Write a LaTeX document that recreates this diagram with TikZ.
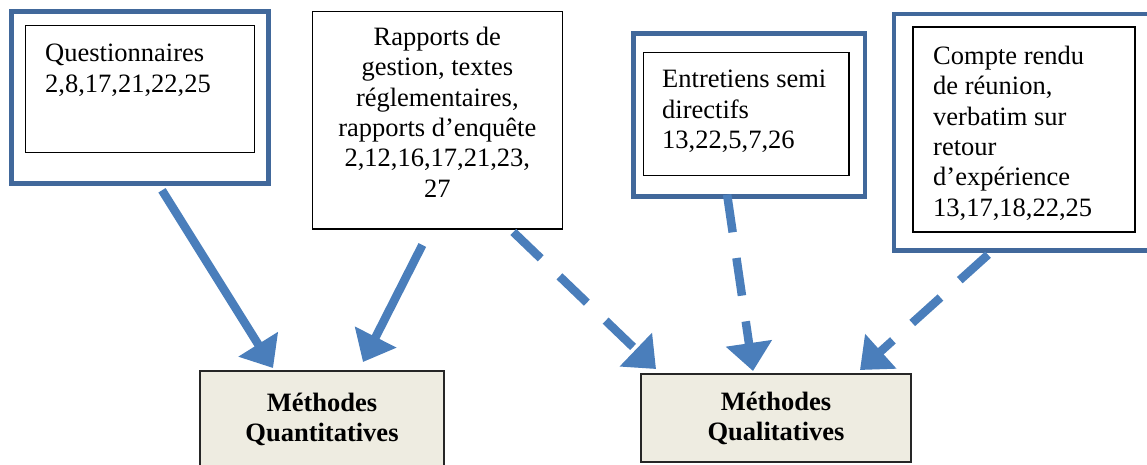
\documentclass[tikz,border=0pt]{standalone}
\usepackage{fontspec}
\setmainfont{Liberation Serif}
\usetikzlibrary{arrows.meta,calc}

\definecolor{arrowblue}{RGB}{74,126,187}
\definecolor{frameblue}{RGB}{65,104,155}
\definecolor{methodfill}{RGB}{238,236,225}

\tikzset{
    srcframe/.style={draw=frameblue, line width=4.5pt, inner sep=0pt, outer sep=0pt, anchor=north west},
    srcbox/.style={draw=black, line width=1.2pt, inner sep=0pt, outer sep=0pt, anchor=north west},
    srctext/.style={inner sep=0pt, align=left, font=\fontsize{26.5}{30.3}\selectfont},
    method/.style={draw=black!85, line width=1.5pt, fill=methodfill, inner sep=0pt, outer sep=0pt,
        align=center, font=\fontsize{26.5}{30}\selectfont\bfseries},
    link/.style={arrowblue, line width=8.5pt, -{Triangle[length=28pt,width=45pt]}},
    dashlink/.style={link, dash pattern=on 38pt off 26pt}
}

\begin{document}
\begin{tikzpicture}[x=1pt, y=-1pt]
    \useasboundingbox (0,0) rectangle (1147,464);

    % questionnaires
    \node[srcframe, minimum width=256.6pt, minimum height=171.6pt] (qframe) at (11.7,11.7) {};
    \node[srcbox, minimum width=228.6pt, minimum height=127pt] (qbox) at (25.7,25.7) {};
    \node[srctext, anchor=north west] (qtext) at (45,44) {Questionnaires\\2,8,17,21,22,25};

    % rapports
    \node[srcbox, minimum width=250pt, minimum height=217.3pt] (rbox) at (312.3,11.7) {};
    \node[srctext, align=center, anchor=north] (rtext) at (437.3,27) {Rapports de\\gestion, textes\\réglementaires,\\rapports d’enquête\\2,12,16,17,21,23,\\27};

    % entretiens
    \node[srcframe, minimum width=231.7pt, minimum height=163.4pt] (eframe) at (633.3,33.3) {};
    \node[srcbox, minimum width=205.7pt, minimum height=123pt] (ebox) at (643.3,52.7) {};
    \node[srctext, anchor=north west] (etext) at (662,70) {Entretiens semi\\directifs\\13,22,5,7,26};

    % compte rendu
    \node[srcframe, minimum width=258pt, minimum height=236.7pt] (cframe) at (894,14) {};
    \node[srcbox, minimum width=222pt, minimum height=205pt] (cbox) at (913,27) {};
    \node[srctext, anchor=north west] (ctext) at (933,46) {Compte rendu\\de réunion,\\verbatim sur\\retour\\d’expérience\\13,17,18,22,25};

    % methodes
    \node[method, minimum width=244pt, minimum height=96pt] (quant) at (322,419) {Méthodes\\Quantitatives};
    \node[method, minimum width=270pt, minimum height=88pt] (qual) at (776,418) {Méthodes\\Qualitatives};

    % arrows
    \draw[link] ($(qframe.south)+(22,7)$) -- ($(quant.north)+(-49,-3)$);
    \draw[link] ($(rbox.south)+(-15,16)$) -- ($(quant.north)+(41,-9)$);
    \draw[dashlink] ($(rbox.south)+(76,3)$) -- ($(qual.north)+(-120,-5)$);
    \draw[dashlink] ($(eframe.south)+(-22,-2)$) -- ($(qual.north)+(-23,-3)$);
    \draw[dashlink] ($(cframe.south)+(-35,4)$) -- ($(qual.north)+(84,-4)$);
\end{tikzpicture}
\end{document}
